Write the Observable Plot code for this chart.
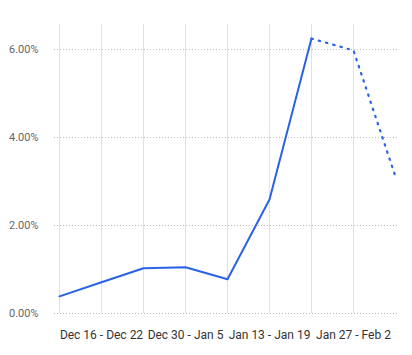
<!DOCTYPE html>
<html><head><meta charset="utf-8">
<script src="https://cdn.jsdelivr.net/npm/d3@7"></script>
<script src="https://cdn.jsdelivr.net/npm/@observablehq/plot@0.6"></script>
<style>body{margin:0;background:#fff;} svg{display:block;}</style>
</head><body><div id="chart"></div>
<script>
const weeks = ["Dec 9 - Dec 15","Dec 16 - Dec 22","Dec 23 - Dec 29","Dec 30 - Jan 5","Jan 6 - Jan 12","Jan 13 - Jan 19","Jan 20 - Jan 26","Jan 27 - Feb 2","Feb 3 - Feb 9"];
const values = [0.0039, 0.0071, 0.0103, 0.0105, 0.0078, 0.0259, 0.0625, 0.0598, 0.0311];
const tickLabels = ["Dec 16 - Dec 22","Dec 30 - Jan 5","Jan 13 - Jan 19","Jan 27 - Feb 2"];
const yTicks = [0, 0.02, 0.04, 0.06];
const solidCount = 7; // first 7 points solid, rest dotted

const data = weeks.map((w, i) => ({week: w, value: values[i]}));
const solid = data.slice(0, solidCount);
const dotted = data.slice(solidCount - 1);
const gridWeeks = weeks.slice(0, 8);

const chart = Plot.plot({
  width: 412, height: 355,
  marginLeft: 57, marginRight: 16, marginTop: 24, marginBottom: 42,
  style: {fontFamily: "Roboto, sans-serif", fontSize: "12px", color: "#444"},
  x: {type: "point", domain: weeks, padding: 0, label: null},
  y: {domain: [0, 0.0657], label: null},
  marks: [
    Plot.ruleY(yTicks, {stroke: "#b5b9bf", strokeDasharray: "1,2", strokeWidth: 1, insetLeft: -3, insetRight: -3}),
    Plot.ruleX(gridWeeks, {x: d => d, stroke: "#cde9e6", strokeWidth: 1}),
    Plot.axisY({ticks: yTicks, tickFormat: d => (d*100).toFixed(2) + "%", tickSize: 0, tickPadding: 19, fontSize: 11, fill: "#666"}),
    Plot.axisX({ticks: tickLabels, tickSize: 0, tickPadding: 17, fontSize: 12, fill: "#333"}),
    Plot.line(solid, {x: "week", y: "value", stroke: "#2962e6", strokeWidth: 2}),
    Plot.line(dotted, {x: "week", y: "value", stroke: "#2962e6", strokeWidth: 2.2, strokeDasharray: "1.5,6", strokeLinecap: "round"})
  ]
});
document.getElementById("chart").appendChild(chart);
</script></body></html>
